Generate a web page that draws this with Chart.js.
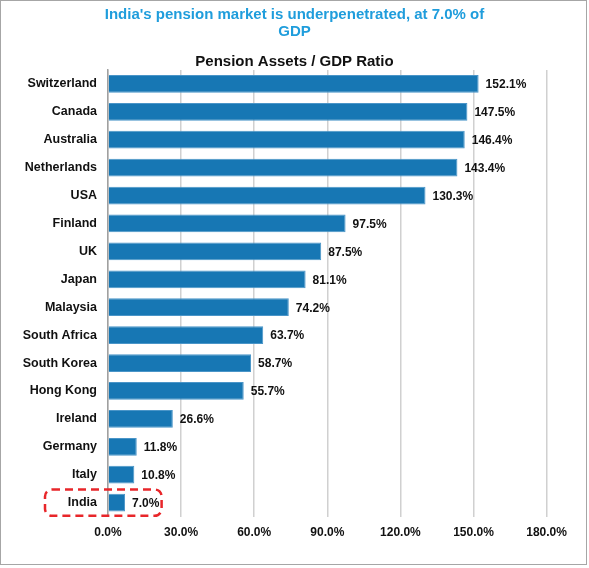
<!DOCTYPE html>
<html>
<head>
<meta charset="utf-8">
<script src="https://cdn.jsdelivr.net/npm/chart.js@4"></script>
<style>
  body { margin: 0; background: #fff; }
  #wrap { position: relative; width: 589px; height: 568px; }
  #frame {
    position: absolute; left: 0; top: 0;
    width: 585px; height: 563px;
    border: 1.5px solid #a6a6a6;
    pointer-events: none;
  }
</style>
</head>
<body>
<div id="wrap">
  <canvas id="pensionChart" width="589" height="568"></canvas>
  <div id="frame"></div>
</div>
<script>
const countries = [
  "Switzerland", "Canada", "Australia", "Netherlands", "USA", "Finland",
  "UK", "Japan", "Malaysia", "South Africa", "South Korea", "Hong Kong",
  "Ireland", "Germany", "Italy", "India"
];
const pensionToGdp = [
  152.1, 147.5, 146.4, 143.4, 130.3, 97.5,
  87.5, 81.1, 74.2, 63.7, 58.7, 55.7,
  26.6, 11.8, 10.8, 7.0
];
const xTickValues = [0, 30, 60, 90, 120, 150, 180];
const highlighted = "India";

const FONT = "'Liberation Sans', Arial, sans-serif";

// value labels at the end of each bar
const valueLabels = {
  id: "valueLabels",
  afterDatasetsDraw(chart) {
    const ctx = chart.ctx;
    const meta = chart.getDatasetMeta(0);
    ctx.save();
    ctx.font = "bold 12px " + FONT;
    ctx.fillStyle = "#111";
    ctx.textBaseline = "middle";
    ctx.textAlign = "left";
    meta.data.forEach((bar, i) => {
      ctx.fillText(pensionToGdp[i].toFixed(1) + "%", bar.x + 7, bar.y + 1);
    });
    ctx.restore();
  }
};

// red dashed box round the highlighted country
const highlightBox = {
  id: "highlightBox",
  afterDraw(chart) {
    const idx = countries.indexOf(highlighted);
    if (idx < 0) return;
    const y = chart.scales.y;
    const x = chart.scales.x;
    const cy = y.getPixelForValue(idx);
    const half = (y.getPixelForValue(1) - y.getPixelForValue(0)) / 2 - 0.8;
    const left = x.left - 63;
    const right = x.getPixelForValue(22);
    const ctx = chart.ctx;
    ctx.save();
    ctx.strokeStyle = "#e8262a";
    ctx.lineWidth = 2.5;
    ctx.setLineDash([8, 5]);
    ctx.beginPath();
    ctx.roundRect(left, cy - half, right - left, half * 2, 7);
    ctx.stroke();
    ctx.restore();
  }
};

new Chart(document.getElementById("pensionChart"), {
  type: "bar",
  data: {
    labels: countries,
    datasets: [{
      data: pensionToGdp,
      backgroundColor: "#1777b4",
      borderColor: "#4a95c8",
      borderWidth: 1,
      barPercentage: 0.635,
      categoryPercentage: 1.0
    }]
  },
  options: {
    indexAxis: "y",
    responsive: false,
    animation: false,
    layout: { padding: { top: 0, right: 0, bottom: 19, left: 0 } },
    plugins: {
      legend: { display: false },
      tooltip: { enabled: false },
      title: {
        display: true,
        text: ["India's pension market is underpenetrated, at 7.0% of", "GDP"],
        color: "#1f9ddc",
        font: { family: FONT, size: 15, weight: "bold", lineHeight: 1.15 },
        padding: { top: 6.4, bottom: 0 }
      },
      subtitle: {
        display: true,
        text: "Pension Assets / GDP Ratio",
        color: "#111",
        font: { family: FONT, size: 15, weight: "bold", lineHeight: 1.1 },
        padding: { top: 12.5, bottom: 0 }
      }
    },
    scales: {
      x: {
        min: 0,
        max: 180,
        afterBuildTicks: (scale) => {
          scale.ticks = xTickValues.map(v => ({ value: v }));
        },
        ticks: {
          color: "#111",
          padding: 9,
          font: { family: FONT, size: 12, weight: "bold" },
          callback: (v) => Number(v).toFixed(1) + "%"
        },
        grid: { color: "#d0d0d0", lineWidth: 1.5, drawTicks: false },
        border: { display: false }
      },
      y: {
        afterFit: (scale) => { scale.width = 108; },
        ticks: {
          color: "#111",
          padding: 11,
          font: { family: FONT, size: 12.5, weight: "bold" }
        },
        grid: { display: false, drawTicks: false },
        border: { display: true, color: "#a0a0a0", width: 1.5 }
      },
      // empty right-hand axis: keeps the room right of the plot
      // while the titles stay centred on the whole picture
      yRight: {
        type: "category",
        position: "right",
        afterFit: (scale) => { scale.width = 42.4; },
        ticks: { display: false },
        grid: { display: false, drawTicks: false },
        border: { display: false }
      }
    }
  },
  plugins: [valueLabels, highlightBox]
});
</script>
</body>
</html>
